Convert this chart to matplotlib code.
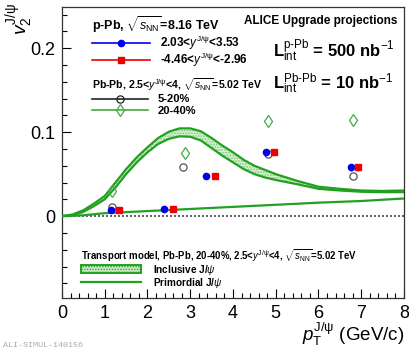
import matplotlib
matplotlib.use("Agg")
import matplotlib.pyplot as plt
from matplotlib.lines import Line2D
from matplotlib.patches import Patch

plt.rcParams['font.family'] = ['Liberation Sans', 'DejaVu Sans']
plt.rcParams['mathtext.fontset'] = 'custom'
plt.rcParams['mathtext.rm'] = 'Liberation Sans'
plt.rcParams['mathtext.it'] = 'Liberation Sans:italic'
plt.rcParams['mathtext.bf'] = 'Liberation Sans:bold'
plt.rcParams['hatch.linewidth'] = 0.8

# ---------------- data ----------------
pt_fwd = [1.15, 2.39, 3.38, 4.78, 6.75]
v2_fwd = [0.007, 0.009, 0.048, 0.0766, 0.058]
err_fwd = [0.002, 0.002, 0.002, 0.003, 0.004]

pt_bwd = [1.34, 2.60, 3.58, 4.96, 6.93]
v2_bwd = [0.007, 0.009, 0.048, 0.0766, 0.058]
err_bwd = [0.002, 0.002, 0.002, 0.003, 0.004]

pt_520 = [1.16, 2.84, 4.83, 6.81]
v2_520 = [0.011, 0.058, 0.074, 0.048]

pt_2040 = [1.18, 2.87, 4.81, 6.81]
v2_2040 = [0.030, 0.075, 0.113, 0.115]

pt_model = [0, 0.25, 0.5, 0.75, 1.0, 1.25, 1.5, 1.75, 2.0, 2.25, 2.5, 2.75, 3.0,
            3.25, 3.5, 3.75, 4.0, 4.25, 4.5, 4.75, 5.0, 5.5, 6.0, 6.5, 7.0, 7.5, 8.0]
incl_up = [0, 0.002, 0.007, 0.015, 0.024, 0.040, 0.056, 0.070, 0.082, 0.093, 0.1005, 0.1045, 0.1045,
           0.101, 0.093, 0.084, 0.076, 0.067, 0.060, 0.055, 0.050, 0.042, 0.035, 0.0325, 0.0305, 0.030, 0.0305]
incl_lo = [0, 0.001, 0.005, 0.012, 0.020, 0.034, 0.050, 0.064, 0.076, 0.086, 0.092, 0.0950, 0.0945,
           0.090, 0.081, 0.072, 0.064, 0.056, 0.050, 0.046, 0.043, 0.038, 0.0325, 0.0305, 0.029, 0.0285, 0.0285]
pt_prim = [0, 0.5, 1, 2, 3, 4, 5, 6, 7, 8]
v2_prim = [0, 0.001, 0.0035, 0.006, 0.0085, 0.011, 0.0135, 0.016, 0.018, 0.021]

# ---------------- figure ----------------
W, H = 410, 349
fig = plt.figure(figsize=(W / 100, H / 100), dpi=100)
ax = fig.add_axes([62 / W, 1 - 298 / H, (404 - 62) / W, (298 - 7) / H])

green = '#22a022'
ax.fill_between(pt_model, incl_lo, incl_up, facecolor='#d6f0d0', edgecolor='#77c877',
                hatch='......', linewidth=0, zorder=2)
ax.plot(pt_model, incl_up, color=green, lw=1.6, zorder=3)
ax.plot(pt_model, incl_lo, color=green, lw=1.6, zorder=3)
ax.plot(pt_prim, v2_prim, color=green, lw=1.6, zorder=3)

ax.axhline(0, color='#444444', lw=1.2, ls=(0, (1.2, 1.2)), zorder=1)

ax.errorbar(pt_fwd, v2_fwd, yerr=err_fwd, fmt='o', color='#0000ee', ms=4.5,
            elinewidth=1, capsize=0, zorder=5)
ax.errorbar(pt_bwd, v2_bwd, yerr=err_bwd, fmt='s', color='#ee0000', ms=4.3,
            elinewidth=1, capsize=0, zorder=5)
ax.plot(pt_520, v2_520, 'o', mfc='none', mec='#555555', ms=5.2, mew=0.9, zorder=4)
ax.plot(pt_2040, v2_2040, 'd', mfc='none', mec='#44aa44', ms=6.5, mew=0.9, zorder=4)

ax.set_xlim(0, 8)
ax.set_ylim(-0.0975, 0.249)
ax.set_xticks(range(0, 9))
ax.set_yticks([0, 0.1, 0.2])
ax.set_yticklabels(['0', '0.1', '0.2'])
ax.set_xticks([i * 0.2 for i in range(41)], minor=True)
ax.set_yticks([-0.08 + 0.02 * i for i in range(17)], minor=True)
ax.tick_params(which='both', direction='in', top=False, right=False, labelsize=13)
ax.tick_params(which='major', length=6.5, width=0.8, pad=5)
ax.tick_params(which='minor', length=3.3, width=0.8)
ax.tick_params(axis='x', pad=5)
for s in ax.spines.values():
    s.set_linewidth(0.9)
    s.set_color('#333333')

# ---------------- legends ----------------
def fx(px):
    return px / W

def fy(py):
    return 1 - py / H

h1 = [Line2D([], [], color='#0000ee', marker='o', ms=4.5, lw=1.2),
      Line2D([], [], color='#ee0000', marker='s', ms=4.3, lw=1.2)]
leg1 = ax.legend(h1, [r'2.03<$y^{\mathrm{J/\psi}}$<3.53', r'-4.46<$y^{\mathrm{J/\psi}}$<-2.96'],
                 title=r'p-Pb, $\sqrt{s_{\mathrm{NN}}}$=8.16 TeV',
                 loc='upper left', bbox_to_anchor=(fx(92), fy(14)), bbox_transform=fig.transFigure,
                 frameon=False, borderpad=0, borderaxespad=0, handlelength=4.9, handletextpad=0.85,
                 labelspacing=-0.1, prop={'size': 8.5, 'weight': 'bold'},
                 title_fontproperties={'size': 9, 'weight': 'bold'}, alignment='left')
ax.add_artist(leg1)

h2 = [Line2D([], [], color='#222222', marker='o', mfc='none', mec='#222222', ms=5.2, mew=0.9, lw=1.2),
      Line2D([], [], color='#44aa44', marker='d', mfc='none', mec='#44aa44', ms=6.5, mew=0.9, lw=1.2)]
leg2 = ax.legend(h2, ['5-20%', '20-40%'],
                 title=r'Pb-Pb, 2.5<$y^{\mathrm{J/\psi}}$<4, $\sqrt{s_{\mathrm{NN}}}$=5.02 TeV',
                 loc='upper left', bbox_to_anchor=(fx(92), fy(76)), bbox_transform=fig.transFigure,
                 frameon=False, borderpad=0, borderaxespad=0, handlelength=5.0, handletextpad=0.9,
                 labelspacing=0.15, prop={'size': 8, 'weight': 'bold'},
                 title_fontproperties={'size': 7.6, 'weight': 'bold'}, alignment='left')
ax.add_artist(leg2)

h3 = [Patch(facecolor='#d6f0d0', edgecolor=green, hatch='......', lw=1.4),
      Line2D([], [], color=green, lw=1.6)]
leg3 = ax.legend(h3, [r'Inclusive J/$\psi$', r'Primordial J/$\psi$'],
                 title=r'Transport model, Pb-Pb, 20-40%, 2.5<$y^{\mathrm{J/\psi}}$<4, $\sqrt{s_{\mathrm{NN}}}$=5.02 TeV',
                 loc='upper left', bbox_to_anchor=(fx(81), fy(247)), bbox_transform=fig.transFigure,
                 frameon=False, borderpad=0, borderaxespad=0, handlelength=6.0, handleheight=0.9,
                 handletextpad=1.2, labelspacing=-0.1, prop={'size': 7.2, 'weight': 'bold'},
                 title_fontproperties={'size': 6.9, 'weight': 'bold'}, alignment='left')

# ---------------- texts ----------------
fig.text(fx(397), fy(24), 'ALICE Upgrade projections', ha='right', va='baseline',
         fontsize=8.5, fontweight='bold')
fig.text(fx(273), fy(57), r'L$_{\mathrm{int}}^{\mathrm{p\text{-}Pb}}$ = 500 nb$^{\mathrm{-1}}$',
         ha='left', va='baseline', fontsize=12, fontweight='bold')
fig.text(fx(273), fy(89), r'L$_{\mathrm{int}}^{\mathrm{Pb\text{-}Pb}}$ = 10 nb$^{\mathrm{-1}}$',
         ha='left', va='baseline', fontsize=12, fontweight='bold')

fig.text(fx(20), fy(3), r'$v_{2}^{\mathrm{J/\psi}}$', rotation=90, ha='center', va='top', fontsize=14)
fig.text(fx(404), fy(341.5), r'$p_{\mathrm{T}}^{\mathrm{J/\psi}}$ (GeV/c)', ha='right', va='baseline',
         fontsize=13.5)
fig.text(fx(3), fy(345.5), 'ALI-SIMUL-140156', ha='left', va='center', fontsize=6,
         family='Liberation Mono', color='#aaaaaa')

fig.savefig('out.png', dpi=100)
